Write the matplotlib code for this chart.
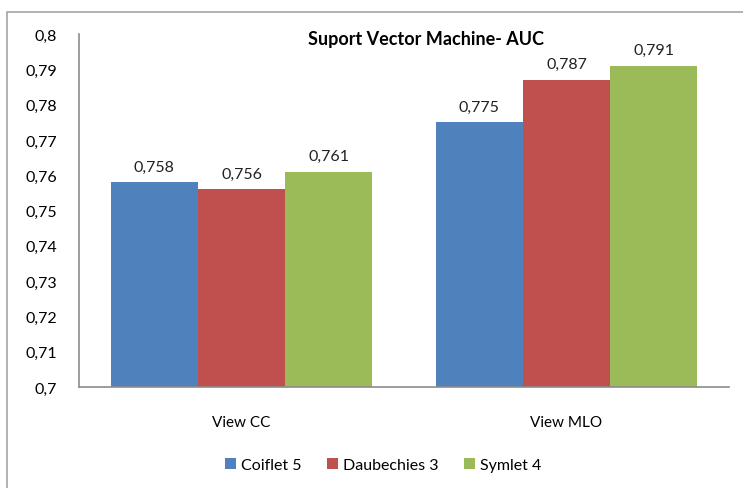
import matplotlib.pyplot as plt
import numpy as np
from matplotlib.patches import Rectangle

views = ["View CC", "View MLO"]
wavelets = ["Coiflet 5", "Daubechies 3", "Symlet 4"]
auc = {
    "Coiflet 5": [0.758, 0.775],
    "Daubechies 3": [0.756, 0.787],
    "Symlet 4": [0.761, 0.791],
}
colors = ["#4F81BD", "#C0504D", "#9BBB59"]
yticks = [0.7, 0.71, 0.72, 0.73, 0.74, 0.75, 0.76, 0.77, 0.78, 0.79, 0.8]

plt.rcParams['font.family'] = ['Lato', 'DejaVu Sans']

fig = plt.figure(figsize=(7.43, 4.89), dpi=100)
# outer chart frame (cut off at right and bottom like the screenshot)
fig.patches.append(Rectangle((7 / 743, -0.05), 1.1, 1 - 13 / 489 + 0.05,
                             transform=fig.transFigure, fill=False,
                             edgecolor="#a6a6a6", linewidth=1.2))

ax = fig.add_axes([79 / 743, 1 - 388 / 489, 650 / 743, (388 - 35) / 489])

x = np.arange(len(views))
width = 0.268
for i, (name, col) in enumerate(zip(wavelets, colors)):
    pos = x + (i - 1) * width
    ax.bar(pos, np.array(auc[name]) - 0.7, width, bottom=0.7, color=col, label=name)
    for p, v in zip(pos, auc[name]):
        ax.text(p, v + 0.0025, f"{v:.3f}".replace(".", ","), ha="center", va="bottom",
                fontsize=11.5, color="#222222")

ax.set_xlim(-0.5, 1.5)
ax.set_ylim(0.7, 0.8)
ax.set_yticks(yticks)
ax.set_yticklabels([f"{t:g}".replace(".", ",") for t in yticks], fontsize=11.5)
ax.set_xticks(x)
ax.set_xticklabels(views, fontsize=11)
ax.tick_params(length=0, pad=16, axis="y")
ax.tick_params(length=0, pad=20, axis="x")
for s in ["top", "right"]:
    ax.spines[s].set_visible(False)
for s in ["left", "bottom"]:
    ax.spines[s].set_color("#8c8c8c")
    ax.spines[s].set_linewidth(1.2)

fig.text(426 / 743, 1 - 40 / 489, "Suport Vector Machine- AUC", ha="center", va="center",
         fontsize=13, fontweight="bold")
fig.legend(loc="center", bbox_to_anchor=(383 / 743, 1 - 466 / 489), ncol=3, frameon=False,
           fontsize=11.5, handlelength=0.7, handleheight=0.7, handletextpad=0.3,
           columnspacing=1.6)

fig.savefig("out.png", dpi=100)
